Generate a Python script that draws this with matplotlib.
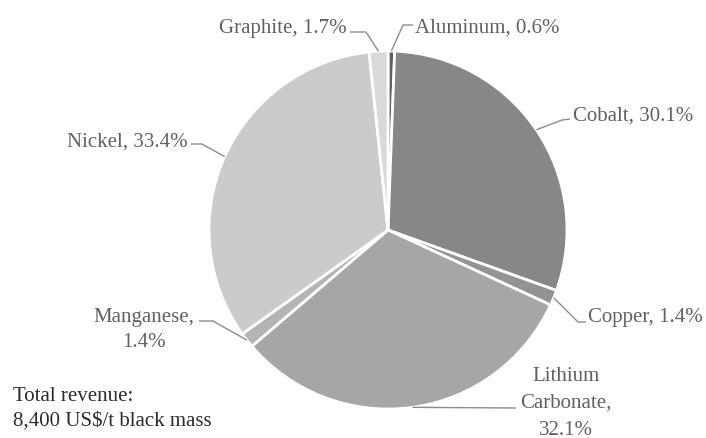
import matplotlib
matplotlib.use("Agg")
import matplotlib.pyplot as plt
import numpy as np

# ---- data ----
materials = ["Aluminum", "Cobalt", "Copper", "Lithium Carbonate", "Manganese", "Nickel", "Graphite"]
shares = [0.6, 30.1, 1.4, 32.1, 1.4, 33.4, 1.7]
label_texts = ["Aluminum, 0.6%", "Cobalt, 30.1%", "Copper, 1.4%", "Lithium\nCarbonate,\n32.1%",
               "Manganese,\n1.4%", "Nickel, 33.4%", "Graphite, 1.7%"]
colors = ["#5f5f5f", "#878787", "#939393", "#a6a6a6", "#b4b4b4", "#cbcbcb", "#d9d9d9"]
note = "Total revenue:\n8,400 US$/t black mass"

W, H = 706, 439
fig = plt.figure(figsize=(W / 100, H / 100), dpi=100)
ax = fig.add_axes([0, 0, 1, 1])

FONT = "Liberation Serif"
TXT = "#606060"
FS = 15

cx, cy, R = 388, H - 231, 179
wedges, _ = ax.pie(shares, startangle=90, counterclock=False, colors=colors,
                   center=(cx, cy), radius=R,
                   wedgeprops=dict(edgecolor="white", linewidth=2.0))
ax.set_xlim(0, W)
ax.set_ylim(0, H)
ax.set_aspect("equal")
ax.axis("off")

def Y(y):
    return H - y

def draw_lines(x, y0, text, ha, color, lsp):
    for i, line in enumerate(text.split("\n")):
        ax.text(x, Y(y0 + i * lsp), line, ha=ha, va="baseline", fontsize=FS,
                family=FONT, color=color)

# label layout (pixel coords, y down): text x / first baseline, alignment, line gap, leader elbow points
layout = {
    "Aluminum":  dict(t=(415, 33), ha="left", lsp=25, pts=[(413, 26), (403, 26)]),
    "Cobalt":    dict(t=(573, 121), ha="left", lsp=25, pts=[(570, 120), (562, 121)]),
    "Copper":    dict(t=(588, 322), ha="left", lsp=25, pts=[(586, 323), (578, 323)]),
    "Lithium Carbonate": dict(t=(566, 381), ha="center", lsp=27, pts=[(516, 409)]),
    "Manganese": dict(t=(144, 322), ha="center", lsp=25, pts=[(199, 322), (213, 322)]),
    "Nickel":    dict(t=(188, 147), ha="right", lsp=25, pts=[(191, 145), (202, 145)]),
    "Graphite":  dict(t=(347, 33), ha="right", lsp=25, pts=[(350, 33), (366, 33)]),
}

for w, name, lab in zip(wedges, materials, label_texts):
    L = layout[name]
    mid = np.deg2rad((w.theta1 + w.theta2) / 2)
    ax_pt = (cx + R * np.cos(mid), cy + R * np.sin(mid))
    xs = [p[0] for p in L["pts"]] + [ax_pt[0]]
    ys = [Y(p[1]) for p in L["pts"]] + [ax_pt[1]]
    ax.plot(xs, ys, color="#8c8c8c", lw=1.0, solid_capstyle="butt")
    draw_lines(L["t"][0], L["t"][1], lab, L["ha"], TXT, L["lsp"])

draw_lines(13, 401, note, "left", "#2b2b2b", 25)

fig.savefig("out.png", dpi=100)
